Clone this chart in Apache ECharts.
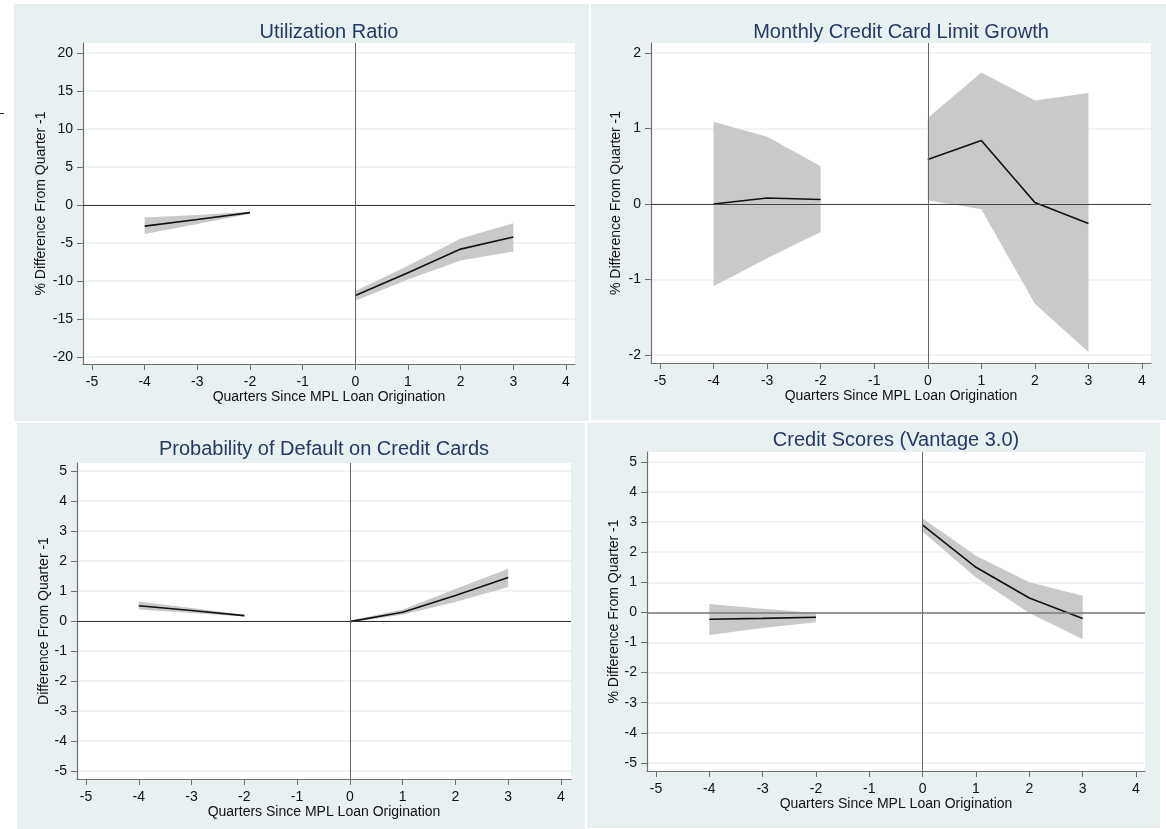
<!DOCTYPE html>
<html>
<head>
<meta charset="utf-8">
<script src="https://cdn.jsdelivr.net/npm/echarts@6/dist/echarts.min.js"></script>
<style>
html,body{margin:0;padding:0;background:#ffffff;}
#chart{width:1166px;height:829px;}
</style>
</head>
<body>
<div id="chart"></div>
<script>
// ---------------- DATA ----------------
const preQuarters = [-4, -3, -2];
const postQuarters = [0, 1, 2, 3];
const xTicks = [-5, -4, -3, -2, -1, 0, 1, 2, 3, 4];

const titles = [
  "Utilization Ratio",
  "Monthly Credit Card Limit Growth",
  "Probability of Default on Credit Cards",
  "Credit Scores (Vantage 3.0)"
];
const yTitles = [
  "% Difference From Quarter -1",
  "% Difference From Quarter -1",
  "Difference From Quarter -1",
  "% Difference From Quarter -1"
];
const xTitle = "Quarters Since MPL Loan Origination";

const yTicksUtil = [-20, -15, -10, -5, 0, 5, 10, 15, 20];
const yTicksLimit = [-2, -1, 0, 1, 2];
const yTicksDefault = [-5, -4, -3, -2, -1, 0, 1, 2, 3, 4, 5];
const yTicksScore = [-5, -4, -3, -2, -1, 0, 1, 2, 3, 4, 5];

// Utilization ratio (pre: -4,-3,-2 ; post: 0..3)
const utilEstPre = [-2.78, -1.9, -1.0];
const utilLoPre  = [-3.8, -2.5, -1.15];
const utilHiPre  = [-1.63, -1.3, -0.88];
const utilEstPost = [-11.9, -8.9, -5.8, -4.2];
const utilLoPost  = [-12.6, -9.8, -7.3, -6.1];
const utilHiPost  = [-11.3, -8.0, -4.4, -2.4];

// Monthly credit card limit growth
const limitEstPre = [0.0, 0.08, 0.06];
const limitLoPre  = [-1.09, -0.72, -0.37];
const limitHiPre  = [1.09, 0.89, 0.50];
const limitEstPost = [0.59, 0.84, 0.02, -0.26];
const limitLoPost  = [0.05, -0.07, -1.32, -1.96];
const limitHiPost  = [1.14, 1.74, 1.37, 1.47];

// Probability of default on credit cards
const defEstPre = [0.51, 0.35, 0.18];
const defLoPre  = [0.38, 0.27, 0.15];
const defHiPre  = [0.65, 0.43, 0.21];
const defEstPost = [-0.02, 0.29, 0.85, 1.45];
const defLoPost  = [-0.05, 0.21, 0.63, 1.13];
const defHiPost  = [0.02, 0.38, 1.07, 1.74];

// Credit scores (Vantage 3.0)
const scoreEstPre = [-0.23, -0.20, -0.16];
const scoreLoPre  = [-0.75, -0.52, -0.33];
const scoreHiPre  = [0.28, 0.12, -0.02];
const scoreEstPost = [2.90, 1.50, 0.48, -0.20];
const scoreLoPost  = [2.68, 1.16, -0.02, -0.89];
const scoreHiPost  = [3.12, 1.88, 1.00, 0.55];

// ---------------- LAYOUT / STYLE ----------------
const FONT = "'Liberation Sans', Arial, Helvetica, sans-serif";
const PANEL_BG = '#e9f0f2';
const GRID_LINE = '#eaf2f3';
const AXIS_COLOR = '#6f6f6f';
const TEXT_COLOR = '#111111';
const TITLE_COLOR = '#243a66';
const BAND_COLOR = '#c9c9c9';

const panels = [
  { bg:[14,4,575,417], grid:{left:83, top:43, width:492, height:321},
    xr:[-5.171, 4.171], yr:[-20.92, 21.32], yTicks:yTicksUtil, titleY:32, yNameGap:35,
    est:[utilEstPre, utilEstPost], lo:[utilLoPre, utilLoPost], hi:[utilHiPre, utilHiPost],
    zeroColor:'#333333', zeroWidth:1 },
  { bg:[591,4,575,416], grid:{left:651, top:43, width:500, height:320},
    xr:[-5.168, 4.168], yr:[-2.106, 2.132], yTicks:yTicksLimit, titleY:32, yNameGap:28,
    est:[limitEstPre, limitEstPost], lo:[limitLoPre, limitLoPost], hi:[limitHiPre, limitHiPost],
    zeroColor:'#444444', zeroWidth:1 },
  { bg:[17,423,568,406], grid:{left:77, top:463, width:494, height:316},
    xr:[-5.17, 4.19], yr:[-5.27, 5.27], yTicks:yTicksDefault, titleY:449, yNameGap:26,
    est:[defEstPre, defEstPost], lo:[defLoPre, defLoPost], hi:[defHiPre, defHiPost],
    zeroColor:'#333333', zeroWidth:1 },
  { bg:[587,423,573,405], grid:{left:647, top:452, width:498, height:319},
    xr:[-5.169, 4.169], yr:[-5.27, 5.33], yTicks:yTicksScore, titleY:440, yNameGap:26,
    est:[scoreEstPre, scoreEstPost], lo:[scoreLoPre, scoreLoPost], hi:[scoreHiPre, scoreHiPost],
    zeroColor:'#7a7a7a', zeroWidth:1.5 }
];

const chart = echarts.init(document.getElementById('chart'), null, {renderer:'canvas'});

const grids = [], xAxes = [], yAxes = [], series = [], graphics = [];

// small stray mark at the left edge of the reference image
graphics.push({ type:'line', silent:true, z:10,
  shape:{x1:0, y1:113.5, x2:4, y2:113.5}, style:{stroke:'#333333', lineWidth:1} });

panels.forEach((p, gi) => {
  graphics.push({ type:'rect', z:-10, silent:true,
    shape:{x:p.bg[0], y:p.bg[1], width:p.bg[2], height:p.bg[3]},
    style:{fill:PANEL_BG} });
  graphics.push({ type:'text', z:10, silent:true,
    x: p.grid.left + p.grid.width / 2, y: p.titleY,
    style:{ text: titles[gi], fill: TITLE_COLOR, font: '20px ' + FONT,
            textAlign:'center', textVerticalAlign:'middle' } });

  grids.push(Object.assign({ show:true, backgroundColor:'#ffffff', borderWidth:0 }, p.grid));

  xAxes.push({
    type:'value', gridIndex:gi, min:p.xr[0], max:p.xr[1],
    axisLine:{show:true, onZero:false, lineStyle:{color:AXIS_COLOR, width:1.2}},
    axisTick:{show:true, length:6, customValues:xTicks, lineStyle:{color:AXIS_COLOR}},
    axisLabel:{customValues:xTicks, fontSize:14, color:TEXT_COLOR, margin:11, fontFamily:FONT},
    splitLine:{show:false},
    name: xTitle, nameLocation:'middle', nameGap:26,
    nameTextStyle:{fontSize:14, color:TEXT_COLOR, fontFamily:FONT}
  });
  yAxes.push({
    type:'value', gridIndex:gi, min:p.yr[0], max:p.yr[1],
    axisLine:{show:true, onZero:false, lineStyle:{color:AXIS_COLOR, width:1.2}},
    axisTick:{show:true, length:6, customValues:p.yTicks, lineStyle:{color:AXIS_COLOR}},
    axisLabel:{customValues:p.yTicks, fontSize:14, color:TEXT_COLOR, margin:10, fontFamily:FONT},
    splitLine:{show:true, lineStyle:{color:GRID_LINE, width:1.5}},
    name: yTitles[gi], nameLocation:'middle', nameGap:p.yNameGap, nameRotate:90,
    nameTextStyle:{fontSize:14, color:TEXT_COLOR, fontFamily:FONT}
  });

  // reference lines (below bands)
  series.push({
    type:'line', xAxisIndex:gi, yAxisIndex:gi, z:1, silent:true,
    data:[[0,0]], symbol:'none', lineStyle:{opacity:0},
    markLine:{ silent:true, symbol:'none', label:{show:false}, animation:false,
      data:[
        {yAxis:0, lineStyle:{color:p.zeroColor, width:p.zeroWidth, type:'solid'}},
        {xAxis:0, lineStyle:{color:'#666666', width:1, type:'solid'}}
      ] }
  });

  [preQuarters, postQuarters].forEach((xs, si) => {
    const lo = p.lo[si], hi = p.hi[si], est = p.est[si];
    series.push({
      type:'custom', xAxisIndex:gi, yAxisIndex:gi, z:2, silent:true,
      data: xs.map((x, i) => [x, lo[i], hi[i]]),
      encode:{x:0, y:[1,2]},
      renderItem: function (params, api) {
        if (params.dataIndex !== 0) return null;
        const top = xs.map((x, i) => api.coord([x, hi[i]]));
        const bot = xs.map((x, i) => api.coord([x, lo[i]])).reverse();
        return { type:'polygon', shape:{points: top.concat(bot)},
                 style:{fill:BAND_COLOR, stroke:null} };
      }
    });
    series.push({
      type:'line', xAxisIndex:gi, yAxisIndex:gi, z:3, silent:true,
      data: xs.map((x, i) => [x, est[i]]),
      symbol:'none', lineStyle:{color:'#111111', width:1.6}
    });
  });
});

chart.setOption({
  animation:false,
  backgroundColor:'#ffffff',
  grid: grids, xAxis: xAxes, yAxis: yAxes, series: series,
  graphic: graphics
});
</script>
</body>
</html>
